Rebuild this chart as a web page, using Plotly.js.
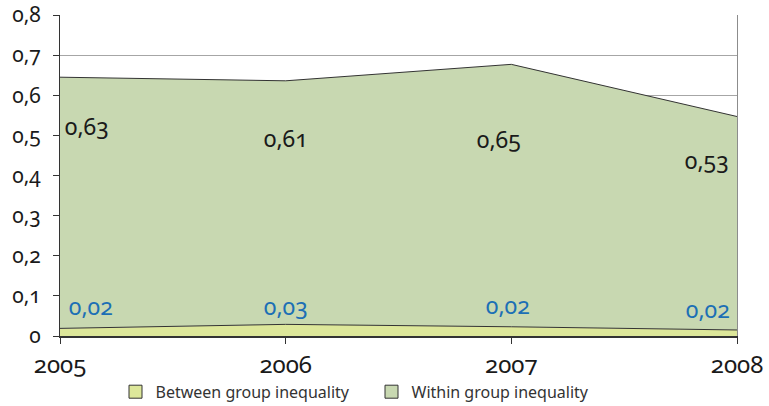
<!DOCTYPE html>
<html>
<head>
<meta charset="utf-8">
<script src="https://cdn.plot.ly/plotly-3.0.1.min.js"></script>
<style>
  html, body { margin: 0; padding: 0; background: #fff; }
  #chart { width: 769px; height: 406px; }
  .main-svg text { font-variant-numeric: oldstyle-nums; font-feature-settings: "onum" 1; }
</style>
</head>
<body>
<div id="chart"></div>
<script>
const years = [2005, 2006, 2007, 2008];
const betweenValues = [0.019, 0.029, 0.023, 0.015];
const withinValues = [0.626, 0.607, 0.654, 0.532];
const betweenLabels = ["0,02", "0,03", "0,02", "0,02"];
const withinLabels = ["0,63", "0,61", "0,65", "0,53"];
const yTickVals = [0, 0.1, 0.2, 0.3, 0.4, 0.5, 0.6, 0.7, 0.8];
const seriesNames = ["Between group inequality", "Within group inequality"];
const fillColors = ["#dde79a", "#c8d8b1"];

const numFont = "Noto Sans, Open Sans, sans-serif";

const traces = [
  {
    x: years, y: betweenValues, name: seriesNames[0],
    type: "scatter", mode: "lines", stackgroup: "one",
    line: { color: "#333333", width: 1 },
    fillcolor: fillColors[0], showlegend: false,
    hoverinfo: "skip"
  },
  {
    x: years, y: withinValues, name: seriesNames[1],
    type: "scatter", mode: "lines", stackgroup: "one",
    line: { color: "#333333", width: 1 },
    fillcolor: fillColors[1], showlegend: false,
    hoverinfo: "skip"
  }
];
// legend entries as filled squares
seriesNames.forEach((nm, i) => {
  traces.push({
    x: [null], y: [null], name: nm, type: "scatter", mode: "markers",
    marker: { symbol: "square", size: 13, color: fillColors[i], line: { color: "#333333", width: 1 } },
    showlegend: true, hoverinfo: "skip"
  });
});

// label placement (positions only, values come from arrays)
const withinY = [0.523, 0.493, 0.491, 0.439];
const withinAnchor = ["left", "center", "center", "right"];
const withinShift = [2, 0, -12, -5];
const betweenY = [0.075, 0.076, 0.078, 0.068];
const betweenAnchor = ["left", "center", "center", "right"];
const betweenShift = [6, 0, -3, -4];

const annotations = [];
years.forEach((yr, i) => {
  annotations.push({
    x: yr, y: withinY[i], xref: "x", yref: "y",
    text: withinLabels[i], showarrow: false,
    xanchor: withinAnchor[i], xshift: withinShift[i], yanchor: "middle",
    font: { family: numFont, size: 23, color: "#1a1a1a" }
  });
  annotations.push({
    x: yr, y: betweenY[i], xref: "x", yref: "y",
    text: betweenLabels[i], showarrow: false,
    xanchor: betweenAnchor[i], xshift: betweenShift[i], yanchor: "middle",
    font: { family: numFont, size: 23, color: "#1c6fb5" }
  });
});

const layout = {
  width: 769, height: 406,
  margin: { l: 60, r: 32, t: 15, b: 70 },
  paper_bgcolor: "#ffffff", plot_bgcolor: "#ffffff",
  separators: ",.",
  showlegend: true,
  legend: {
    orientation: "h", xref: "paper", x: 0.082, xanchor: "left",
    yref: "container", y: 0.035, yanchor: "middle",
    font: { family: "Noto Sans, Open Sans, sans-serif", size: 16, color: "#333333" },
    itemwidth: 30, entrywidth: 211, entrywidthmode: "pixels",
    traceorder: "normal", tracegroupgap: 0
  },
  xaxis: {
    type: "linear", range: [2005, 2008],
    tickvals: years, ticktext: years.map(String),
    showgrid: false, zeroline: false,
    showline: true, linecolor: "#333333", linewidth: 2,
    ticks: "outside", ticklen: 6, tickcolor: "#333333", tickwidth: 1,
    tickfont: { family: numFont, size: 24, color: "#1a1a1a" },
    ticklabelstandoff: 0
  },
  yaxis: {
    range: [0, 0.8], tickvals: yTickVals,
    showgrid: true, gridcolor: "#a6a6a6", gridwidth: 1,
    zeroline: false,
    showline: true, linecolor: "#333333", linewidth: 1,
    mirror: false,
    ticks: "outside", ticklen: 6, tickcolor: "#333333", tickwidth: 1,
    tickfont: { family: numFont, size: 21, color: "#1a1a1a" },
    ticklabelstandoff: 8
  },
  yaxis2: {
    overlaying: "y", side: "right", range: [0, 0.8],
    showline: true, linecolor: "#8c8c8c", linewidth: 1,
    showticklabels: false, ticks: "", showgrid: false, zeroline: false
  },
  annotations: annotations
};

// invisible helper trace so the right frame axis renders
traces.push({ x: [2005], y: [0], yaxis: "y2", type: "scatter", mode: "markers",
  marker: { opacity: 0 }, showlegend: false, hoverinfo: "skip" });

Plotly.newPlot("chart", traces, layout, { displayModeBar: false, staticPlot: true });
</script>
</body>
</html>
